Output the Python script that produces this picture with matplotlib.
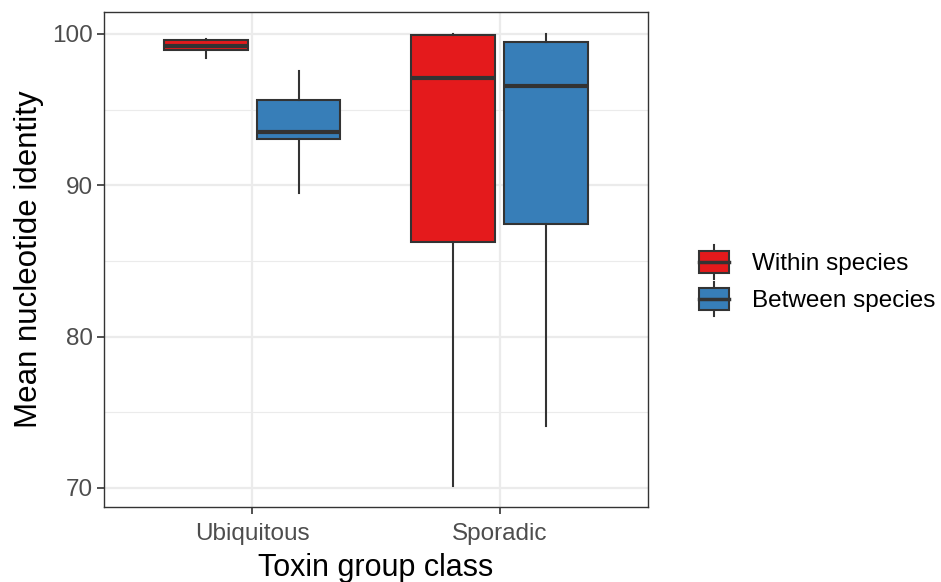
import matplotlib
matplotlib.use('Agg')
import matplotlib.pyplot as plt
from matplotlib.legend_handler import HandlerBase
from matplotlib.patches import Rectangle
from matplotlib.lines import Line2D

plt.rcParams['font.family'] = ['Liberation Sans', 'DejaVu Sans']

# 데이터 (그림에서 읽은 상자 통계값)
categories = ['Ubiquitous', 'Sporadic']
groups = ['Within species', 'Between species']
group_colors = ['#E41A1C', '#377EB8']

within_whislo = [98.4, 70.1]
within_q1 = [98.95, 86.25]
within_med = [99.2, 97.1]
within_q3 = [99.6, 99.93]
within_whishi = [99.67, 100.0]

between_whislo = [89.5, 74.1]
between_q1 = [93.04, 87.44]
between_med = [93.5, 96.56]
between_q3 = [95.64, 99.47]
between_whishi = [97.58, 100.0]

EDGE = '#333333'
GRID = '#EBEBEB'


def make_stats(lo, q1, med, q3, hi):
    return [dict(whislo=a, q1=b, med=c, q3=d, whishi=e, fliers=[])
            for a, b, c, d, e in zip(lo, q1, med, q3, hi)]


class BoxKeyHandler(HandlerBase):
    """ggplot 스타일 범례 키 (상자 + 중앙선 + 수염)"""

    def create_artists(self, legend, orig_handle, xdescent, ydescent,
                       width, height, fontsize, trans):
        color = orig_handle.get_facecolor()
        cx = width / 2 - xdescent
        bw = width * 0.95
        bh = height * 1.0
        by = -ydescent + (height - bh) / 2
        whisker = Line2D([cx, cx], [by - height * 0.3, by + bh + height * 0.3],
                         color=EDGE, lw=1.5, transform=trans)
        rect = Rectangle((cx - bw / 2, by), bw, bh, facecolor=color,
                         edgecolor=EDGE, lw=1.5, transform=trans)
        med = Line2D([cx - bw / 2, cx + bw / 2], [by + bh / 2, by + bh / 2],
                     color=EDGE, lw=2.5, transform=trans)
        return [whisker, rect, med]


fig = plt.figure(figsize=(9.41, 5.82), dpi=100)
ax = fig.add_axes([0.1105, 0.1289, 0.578, 0.8505])

x = [1, 2]
offset = 0.1875
box_w = 0.3375
all_stats = [
    make_stats(within_whislo, within_q1, within_med, within_q3, within_whishi),
    make_stats(between_whislo, between_q1, between_med, between_q3, between_whishi),
]
for g, stats in enumerate(all_stats):
    pos = [xi + (offset if g else -offset) for xi in x]
    ax.bxp(stats, positions=pos, widths=box_w, patch_artist=True,
           showcaps=False, showfliers=False,
           boxprops=dict(facecolor=group_colors[g], edgecolor=EDGE, linewidth=1.5),
           medianprops=dict(color=EDGE, linewidth=3, solid_capstyle='butt'),
           whiskerprops=dict(color=EDGE, linewidth=1.5),
           zorder=3)

ax.set_xlim(0.4, 2.6)
ax.set_ylim(68.74, 101.45)
ax.set_xticks(x)
ax.set_xticklabels(categories)
ax.set_yticks([70, 80, 90, 100])
ax.set_yticks([75, 85, 95], minor=True)

ax.grid(True, which='major', color=GRID, linewidth=1.6, zorder=0)
ax.grid(True, which='minor', axis='y', color=GRID, linewidth=0.8, zorder=0)
ax.set_axisbelow(True)

for sp in ax.spines.values():
    sp.set_color(EDGE)
    sp.set_linewidth(1.0)

ax.tick_params(which='major', length=5, width=1.2, color=EDGE,
               labelsize=17.5, labelcolor='#4D4D4D', pad=3)
ax.tick_params(axis='x', which='major', pad=6.5)
ax.tick_params(which='minor', length=0)

ax.set_xlabel('Toxin group class', fontsize=22, color='black', labelpad=6)
ax.set_ylabel('Mean nucleotide identity', fontsize=22.5, color='black', labelpad=6)

handles = [Rectangle((0, 0), 1, 1, facecolor=c) for c in group_colors]
fig.legend(handles, groups, handler_map={Rectangle: BoxKeyHandler()},
           loc='center left', bbox_to_anchor=(0.7186, 0.516), frameon=False,
           fontsize=17.5, handlelength=1.3, handleheight=1.0,
           handletextpad=0.9, labelspacing=0.53)

fig.savefig('out.png', dpi=100, facecolor='white')
